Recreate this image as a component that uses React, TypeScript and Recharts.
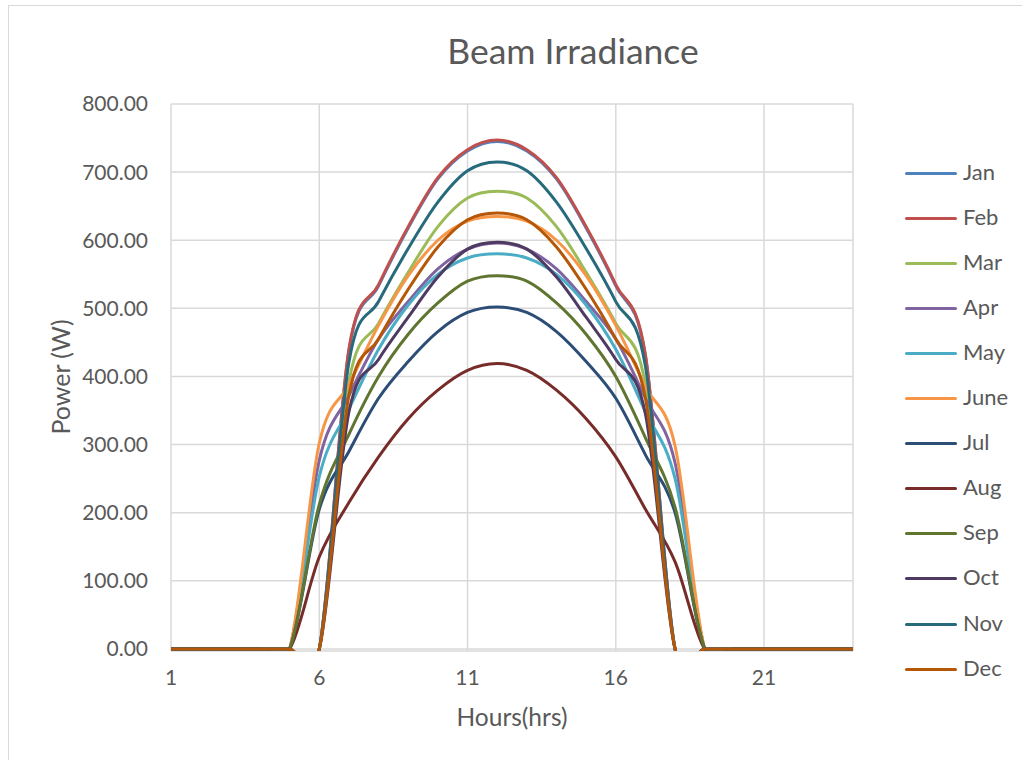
import { LineChart, Line, XAxis, YAxis, CartesianGrid } from "recharts";

// hours on the x axis
const hours = [1, 2, 3, 4, 5, 6, 7, 8, 9, 10, 11, 12, 13, 14, 15, 16, 17, 18, 19, 20, 21, 22, 23, 24];

// beam irradiance per month (W), one value per hour
const jan = [0, 0, 0, 0, 0, 0, 438, 533, 618, 690, 731, 745, 731, 690, 618, 533, 430, 0, 0, 0, 0, 0, 0, 0];
const feb = [0, 0, 0, 0, 0, 0, 440, 535, 620, 692, 733, 747, 733, 692, 620, 535, 432, 0, 0, 0, 0, 0, 0, 0];
const mar = [0, 0, 0, 0, 0, 0, 392, 478, 553, 620, 662, 672, 662, 620, 553, 478, 388, 0, 0, 0, 0, 0, 0, 0];
const apr = [0, 0, 0, 0, 0, 277, 372, 455, 510, 558, 587, 596, 587, 558, 510, 455, 368, 273, 0, 0, 0, 0, 0, 0];
const may = [0, 0, 0, 0, 0, 253, 352, 440, 505, 550, 574, 580, 574, 550, 505, 440, 348, 250, 0, 0, 0, 0, 0, 0];
const jun = [0, 0, 0, 0, 0, 302, 388, 475, 548, 600, 628, 635, 628, 600, 548, 475, 385, 298, 0, 0, 0, 0, 0, 0];
const jul = [0, 0, 0, 0, 0, 205, 290, 368, 422, 466, 494, 502, 494, 466, 422, 368, 285, 200, 0, 0, 0, 0, 0, 0];
const aug = [0, 0, 0, 0, 0, 135, 215, 282, 338, 380, 409, 419, 409, 380, 338, 282, 205, 128, 0, 0, 0, 0, 0, 0];
const sep = [0, 0, 0, 0, 0, 212, 315, 400, 462, 508, 540, 548, 540, 508, 462, 400, 310, 208, 0, 0, 0, 0, 0, 0];
const oct = [0, 0, 0, 0, 0, 0, 348, 425, 487, 546, 587, 597, 587, 546, 487, 425, 345, 0, 0, 0, 0, 0, 0, 0];
const nov = [0, 0, 0, 0, 0, 0, 421, 510, 588, 656, 702, 715, 702, 656, 588, 510, 415, 0, 0, 0, 0, 0, 0, 0];
const dec = [0, 0, 0, 0, 0, 0, 372, 455, 528, 590, 630, 640, 630, 590, 528, 455, 368, 0, 0, 0, 0, 0, 0, 0];

const monthNames = ["Jan", "Feb", "Mar", "Apr", "May", "June", "Jul", "Aug", "Sep", "Oct", "Nov", "Dec"];
const monthValues = [jan, feb, mar, apr, may, jun, jul, aug, sep, oct, nov, dec];
const monthColors = [
  "#4F81BD", "#C0504D", "#9BBB59", "#8064A2", "#4BACC6", "#F79646",
  "#2C4D75", "#772C2A", "#5F7530", "#4D3B62", "#276A7C", "#B65708",
];

const xTicks = [1, 6, 11, 16, 21];
const yTicks = [0, 100, 200, 300, 400, 500, 600, 700, 800];

const chartData = hours.map((h, i) => {
  const row: Record<string, number> = { hour: h };
  monthNames.forEach((m, j) => {
    row[m] = monthValues[j][i];
  });
  return row;
});

const FONT = "Lato, 'Open Sans', sans-serif";
const TEXT = "#595959";

// Excel-like smoothing: bezier with control points at 1/6 of neighbour span
function excelCurve(context: any) {
  let pts: number[][] = [];
  return {
    areaStart() {},
    areaEnd() {},
    lineStart() {
      pts = [];
    },
    point(x: number, y: number) {
      pts.push([+x, +y]);
    },
    lineEnd() {
      if (!pts.length) return;
      context.moveTo(pts[0][0], pts[0][1]);
      for (let i = 0; i < pts.length - 1; i++) {
        const p0 = pts[i - 1] || pts[i];
        const p1 = pts[i];
        const p2 = pts[i + 1];
        const p3 = pts[i + 2] || p2;
        context.bezierCurveTo(
          p1[0] + (p2[0] - p0[0]) / 6,
          p1[1] + (p2[1] - p0[1]) / 6,
          p2[0] - (p3[0] - p1[0]) / 6,
          p2[1] - (p3[1] - p1[1]) / 6,
          p2[0],
          p2[1]
        );
      }
    },
  };
}

export default function App() {
  return (
    <div
      style={{
        position: "fixed",
        left: 0,
        top: 0,
        width: 1022,
        height: 760,
        overflow: "hidden",
        background: "#fff",
        fontFamily: FONT,
        color: TEXT,
      }}
    >
      <div
        style={{
          position: "absolute",
          left: 8,
          top: 5,
          width: 1040,
          height: 800,
          border: "1.5px solid #D9D9D9",
        }}
      />
      <div
        style={{
          position: "absolute",
          left: 273,
          top: 32,
          width: 600,
          textAlign: "center",
          fontSize: 35.5,
          lineHeight: "38px",
        }}
      >
        Beam Irradiance
      </div>
      <div style={{ position: "absolute", left: 0, top: 0 }}>
        <LineChart
          width={1022}
          height={760}
          data={chartData}
          margin={{ top: 104, right: 169, left: 31, bottom: 79 }}
        >
          <CartesianGrid stroke="#D9D9D9" strokeWidth={1.5} />
          <XAxis
            dataKey="hour"
            type="number"
            domain={[1, 24]}
            ticks={xTicks}
            axisLine={false}
            tickLine={false}
            tickMargin={13}
            height={30}
            tick={{ fill: TEXT, fontSize: 21, fontFamily: FONT }}
          />
          <YAxis
            type="number"
            domain={[-2.94, 800]}
            ticks={yTicks}
            allowDataOverflow
            axisLine={false}
            tickLine={false}
            tickMargin={17}
            width={140}
            tickFormatter={(v: number) => v.toFixed(2)}
            tick={{ fill: TEXT, fontSize: 21, fontFamily: FONT }}
          />
          {monthNames.map((m, j) => (
            <Line
              key={m}
              dataKey={m}
              type={excelCurve as any}
              stroke={monthColors[j]}
              strokeWidth={3}
              dot={false}
              isAnimationActive={false}
            />
          ))}
        </LineChart>
      </div>
      <div
        style={{
          position: "absolute",
          left: 362,
          top: 702,
          width: 300,
          textAlign: "center",
          fontSize: 24.5,
          lineHeight: "30px",
        }}
      >
        Hours(hrs)
      </div>
      <div
        style={{
          position: "absolute",
          left: 60 - 100,
          top: 377 - 15,
          width: 200,
          textAlign: "center",
          fontSize: 25,
          lineHeight: "30px",
          transform: "rotate(-90deg)",
        }}
      >
        Power (W)
      </div>
      {monthNames.map((m, j) => (
        <div
          key={m}
          style={{
            position: "absolute",
            left: 905,
            top: 172.5 + j * 45.1 - 15,
            height: 30,
            display: "flex",
            alignItems: "center",
            fontSize: 22,
          }}
        >
          <div
            style={{
              width: 52,
              height: 3,
              borderRadius: 2,
              background: monthColors[j],
              marginRight: 6,
              marginTop: 1,
            }}
          />
          <span style={{ lineHeight: "30px", marginTop: -2 }}>{m}</span>
        </div>
      ))}
    </div>
  );
}
